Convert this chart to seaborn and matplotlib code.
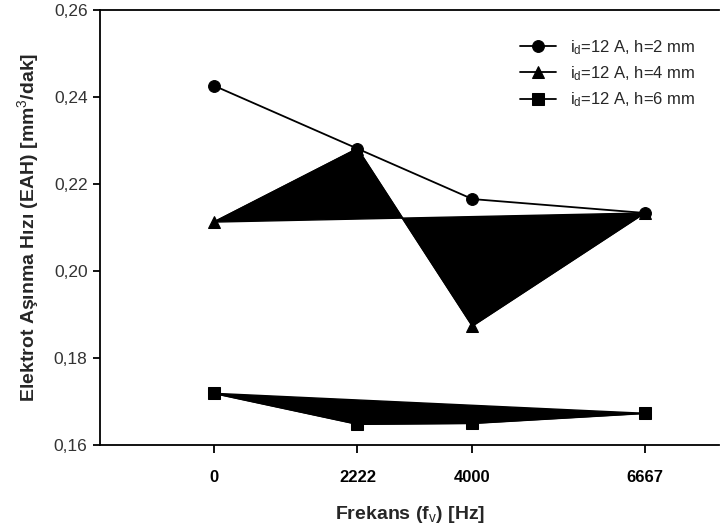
import matplotlib
matplotlib.use('Agg')
import matplotlib.pyplot as plt
import numpy as np
import pandas as pd
import seaborn as sns

freq = [0, 2222, 4000, 6667]
h2 = [0.2426, 0.2281, 0.2165, 0.2133]
h4 = [0.2112, 0.2281, 0.1873, 0.2133]
h6 = [0.1718, 0.1647, 0.1649, 0.1672]
labels = [r'i$_\mathrm{d}$=12 A, h=2 mm',
          r'i$_\mathrm{d}$=12 A, h=4 mm',
          r'i$_\mathrm{d}$=12 A, h=6 mm']
yticks = [0.16, 0.18, 0.20, 0.22, 0.24, 0.26]

sns.set_style('white')
plt.rcParams['font.family'] = ['Liberation Sans', 'DejaVu Sans']
plt.rcParams['mathtext.fontset'] = 'custom'
plt.rcParams['mathtext.rm'] = 'Liberation Sans'
plt.rcParams['mathtext.it'] = 'Liberation Sans'
plt.rcParams['mathtext.bf'] = 'Liberation Sans:bold'

fig = plt.figure(figsize=(7.2, 5.28), dpi=100)
ax = fig.add_axes([0.139, 0.158, 0.86, 0.823])

# h=4 and h=6 series are drawn as closed filled polygons in the original
ax.fill(freq, h4, color='black', lw=1)
ax.fill(freq, h6, color='black', lw=1)

for vals, mk, lab in zip([h2, h4, h6], ['o', '^', 's'], labels):
    sns.lineplot(x=freq, y=vals, marker=mk, color='black', markersize=8.5,
                 markeredgecolor='black', lw=1.3, label=lab, ax=ax)

ax.set_xlim(-1760, 7820)
ax.set_ylim(0.16, 0.26)
ax.set_xticks(freq)
ax.set_xticklabels([str(f) for f in freq], fontweight='bold', fontsize=12)
ax.set_yticks(yticks)
ax.set_yticklabels([('%.2f' % t).replace('.', ',') for t in yticks],
                   fontsize=12.5)
ax.tick_params(axis='x', direction='out', length=6, width=1.3, pad=12,
               bottom=True, colors='black')
ax.tick_params(axis='y', direction='out', length=5, width=1.3, pad=4,
               left=True, colors='black')
for t in ax.get_yticklabels():
    t.set_color('#333333')
for s in ['left', 'top', 'bottom']:
    ax.spines[s].set_color('black')
    ax.spines[s].set_linewidth(1.3)
ax.spines['right'].set_visible(False)

ax.set_xlabel(r'Frekans (f$_\mathrm{v}$) [Hz]', fontsize=14, fontweight='bold',
              labelpad=14)
ax.set_ylabel(r'Elektrot Aşınma Hızı (EAH) [mm$^\mathrm{3}$/dak]', fontsize=14,
              fontweight='bold', labelpad=9)

leg = ax.legend(loc='upper right', bbox_to_anchor=(0.985, 0.97), frameon=False,
                fontsize=12, handlelength=2.2, labelspacing=0.45)

plt.savefig('out.png', dpi=100)
